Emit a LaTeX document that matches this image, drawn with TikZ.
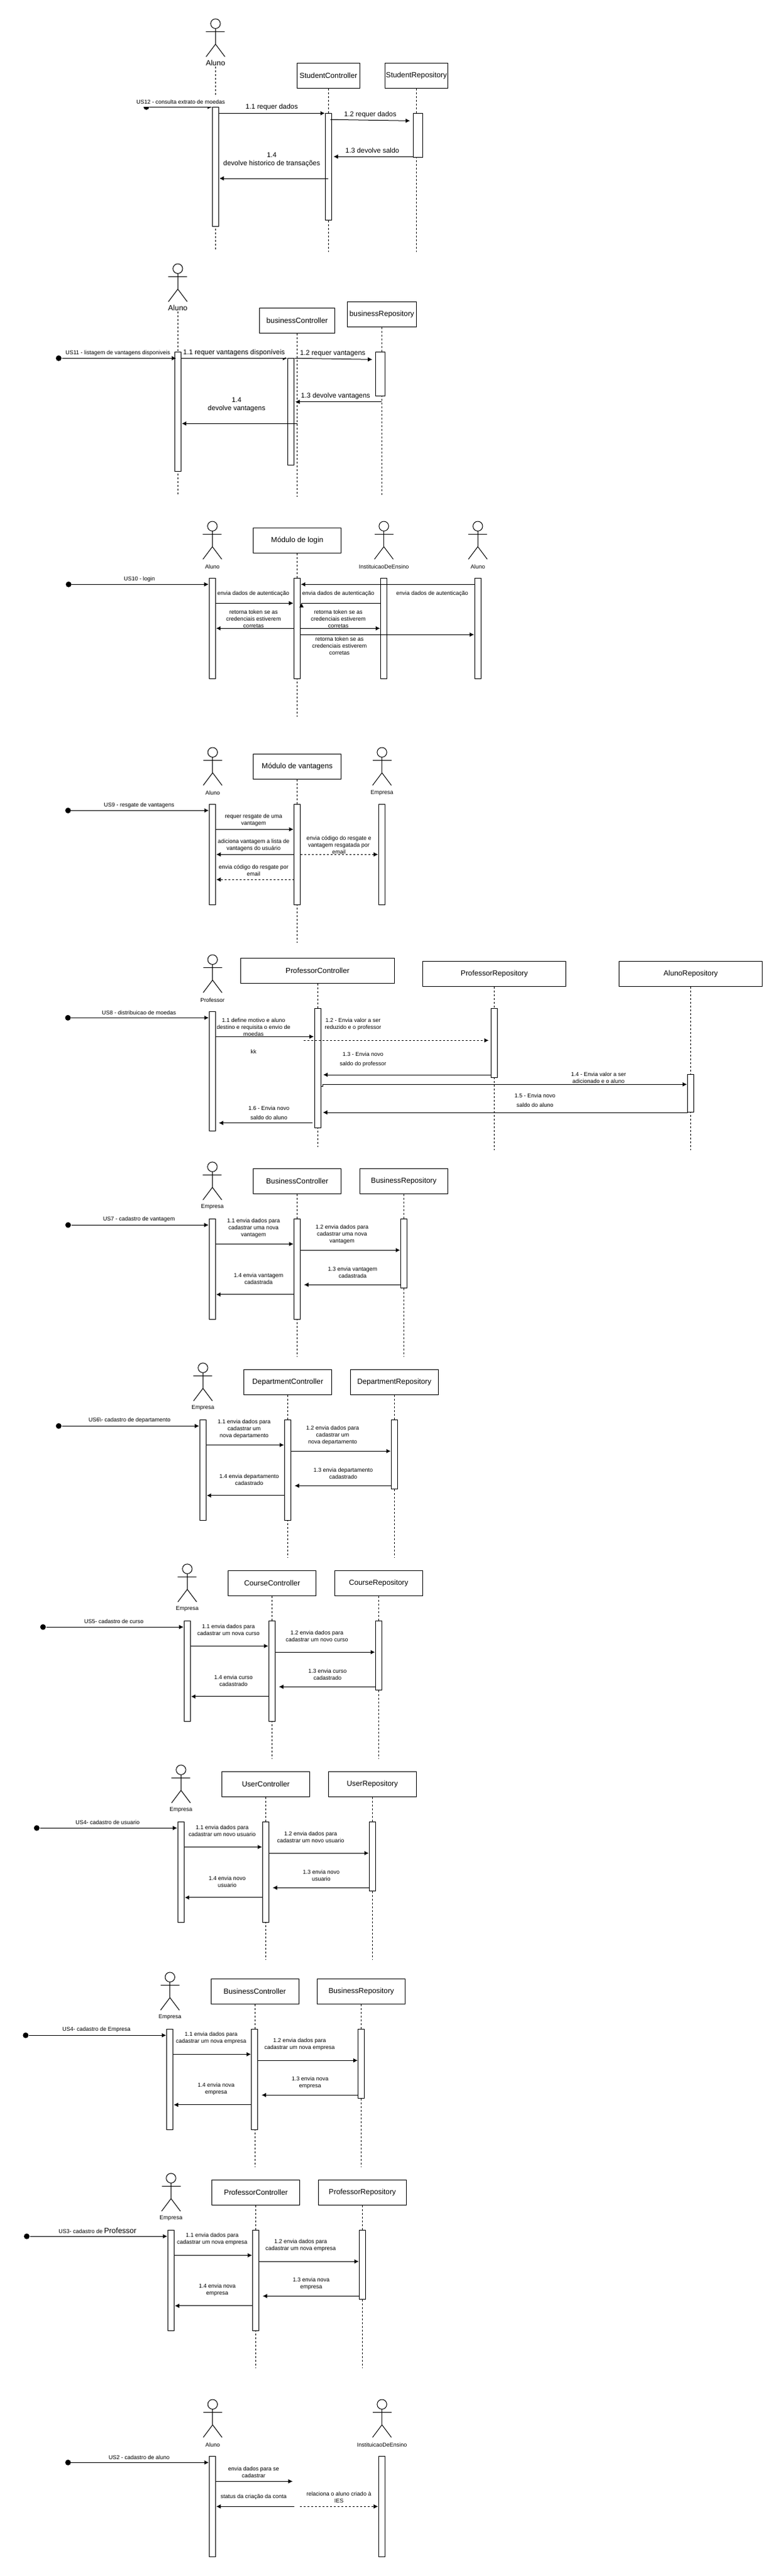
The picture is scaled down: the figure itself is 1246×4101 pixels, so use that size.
\documentclass[tikz,border=0pt]{standalone}
\usepackage{fontspec}
\setmainfont{Liberation Sans}
\usetikzlibrary{arrows.meta}
\tikzstyle{lifebox} = [draw, fill=white, minimum height=40pt, inner sep=0,
font=\fontsize{11.8}{14}\selectfont]
\tikzstyle{actbar} = [draw, fill=white, anchor=north, minimum width=10pt,
inner sep=0, outer sep=0]
\tikzstyle{msglabel} = [inner sep=0, align=center, font=\fontsize{9}{11}\selectfont]
\tikzstyle{bigmsg} = [inner sep=0, align=center, font=\fontsize{11}{13}\selectfont]
\tikzstyle{actname} = [inner sep=0, align=center, font=\fontsize{12}{14}\selectfont]
\tikzstyle{startdot} = [circle, fill=black, minimum size=9pt, inner sep=0]
\tikzstyle{lifeline} = [dash pattern=on 3pt off 3pt]
\tikzstyle{msg} = [-{Latex[length=7pt,width=7pt]}, shorten >=1pt]
\tikzstyle{dashmsg} = [msg, dash pattern=on 3pt off 3pt]
%% stick figure, y is the height of the arms
\newcommand{\actor}[3]{
	\coordinate (#1) at (#2,#3);
	\draw (#2,#3-12.6) circle (7.7pt);
	\draw (#2,#3-5) -- (#2,#3+20);
	\draw (#2-15,#3) -- (#2+15,#3);
	\draw (#2-15,#3+40) -- (#2,#3+20) -- (#2+15,#3+40);
}
%% the six "cadastro" sequences only differ by their offset and texts
\newcommand{\cadastro}[9]{
	\begin{scope}[shift={#2}]
		\actor{emp#1}{338.4}{1870.2}
		\node[msglabel] (empName#1) at (338.4,1921.6) {Empresa};
		\node[lifebox, minimum width=140pt] (ctrl#1) at (473.6,1880.4) {#3};
		\node[lifebox, minimum width=140pt] (repo#1) at (643.3,1880.4) {#4};
		\draw[lifeline] (ctrl#1) -- (ctrl#1 |- 0,2160.4);
		\draw[lifeline] (repo#1) -- (repo#1 |- 0,2160.4);
		\node[actbar, minimum height=160pt] (barA#1) at (338.4,1940.4) {};
		\node[actbar, minimum height=160pt] (barB#1) at (473.5,1940.4) {};
		\node[actbar, minimum height=110pt] (barC#1) at (643.5,1940.4) {};
		\node[startdot] (start#1) at (108.5,1950.2) {};
		\draw[msg] (start#1) -- (barA#1.west |- start#1);
		\node[msglabel] (us#1) at (221.3,1941.6) {#5};
		\draw[msg] (barA#1.east |- 0,1980.4) -- (barB#1.west |- 0,1980.4);
		\node[msglabel] (txtA#1) at (404,1955) {#6};
		\draw[msg] (barB#1.east |- 0,1990.2) -- (barC#1.west |- 0,1990.2);
		\node[msglabel] (txtB#1) at (545,1965) {#7};
		\draw[msg] (barC#1.west |- 0,2045.3) -- ([xshift=5pt]barB#1.east |- 0,2045.3);
		\node[msglabel] (txtC#1) at (561.8,2025.5) {#8};
		\draw[msg] (barB#1.west |- 0,2060.8) -- (barA#1.east |- 0,2060.8);
		\node[msglabel] (txtD#1) at (412,2035.7) {#9};
	\end{scope}
}

\begin{document}
\begin{tikzpicture}[x=1pt, y=-1pt, line width=1pt]
	\useasboundingbox (0,0) rectangle (1246,4101);
	%% US12 extrato
	\actor{aluA}{343.4}{50.3}
	\node[actname] (aluAname) at (343.4,100.7) {Aluno};
	\node[lifebox, minimum width=100pt] (ctrlA) at (523.4,120.3) {StudentController};
	\node[lifebox, minimum width=100pt] (repoA) at (663.5,120.3) {StudentRepository};
	\draw[lifeline] (aluAname.south) -- (aluAname.south |- 0,397.7);
	\draw[lifeline] (ctrlA) -- (ctrlA |- 0,400.7);
	\draw[lifeline] (repoA) -- (repoA |- 0,400.7);
	\node[actbar, minimum height=190pt] (barAA) at (343.6,170.3) {};
	\node[actbar, minimum height=170pt] (barBA) at (523.5,180.3) {};
	\node[actbar, minimum height=70pt, minimum width=15pt] (barCA) at (665.8,180.3) {};
	\node[startdot] (startA) at (233.2,170.3) {};
	\draw[msg] (startA) -- (barAA.west |- startA);
	\node[msglabel, fill=white, minimum height=16pt] (usA) at (287.9,162) {US12 - consulta extrato de moedas};
	\draw[msg] (barAA.east |- 0,180.3) -- (barBA.west |- 0,180.3);
	\node[bigmsg] (txtAA) at (433,171) {1.1 requer dados};
	\draw[msg] ([xshift=-2pt]barBA.east |- 0,190.3) -- ([xshift=-4pt]barCA.west |- 0,192.3);
	\node[bigmsg] (txtBA) at (590,182.3) {1.2 requer dados};
	\draw[msg] (barCA.west |- 0,249.3) -- ([xshift=2pt]barBA.east |- 0,249.3);
	\node[bigmsg] (txtCA) at (593.3,240) {1.3 devolve saldo};
	\draw[msg] (ctrlA |- 0,284) -- (barAA.east |- 0,284);
	\node[bigmsg] (txtDA) at (433,254.5) {1.4\\devolve historico de transações};
	%% US11 vantagens
	\actor{aluB}{283.3}{440.3}
	\node[actname] (aluBname) at (283.3,490.7) {Aluno};
	\node[lifebox, minimum width=120pt] (ctrlB) at (473.5,510.3) {businessController};
	\node[lifebox, minimum width=110pt] (repoB) at (608.4,500.3) {businessRepository};
	\draw[lifeline] (aluBname.south) -- (aluBname.south |- 0,787.7);
	\draw[lifeline] (ctrlB) -- (ctrlB |- 0,790.7);
	\draw[lifeline] (repoB) -- (repoB |- 0,787.7);
	\node[actbar, minimum height=190pt] (barAB) at (283.7,560.3) {};
	\node[actbar, minimum height=170pt] (barBB) at (463.5,570.3) {};
	\node[actbar, minimum height=70pt, minimum width=15pt] (barCB) at (605.7,560.3) {};
	\node[startdot] (startB) at (93.5,570.3) {};
	\draw[msg] (startB) -- ([xshift=3pt]barAB.west |- startB);
	\node[msglabel] (usB) at (187.8,562) {US11 - listagem de vantagens disponiveis};
	\draw[msg] (barAB.east |- 0,570.3) -- (barBB.west |- 0,570.3);
	\node[bigmsg, fill=white, minimum height=18pt] (txtAB) at (373,561.3) {1.1 requer vantagens disponíveis};
	\draw[msg] ([xshift=1pt]barBB.east |- 0,570.3) -- ([xshift=-4pt]barCB.west |- 0,572.3);
	\node[bigmsg] (txtBB) at (530.2,562.3) {1.2 requer vantagens};
	\draw[msg] (repoB |- 0,639.7) -- ([xshift=1pt]barBB.east |- 0,639.7);
	\node[bigmsg] (txtCB) at (534.7,630.3) {1.3 devolve vantagens};
	\draw[msg] (ctrlB |- 0,674.3) -- (barAB.east |- 0,674.3);
	\node[bigmsg] (txtDB) at (377,644.7) {1.4\\devolve vantagens};
	%% US10 login
	\actor{aluC}{338.4}{850.3}
	\node[msglabel] (aluCname) at (338.4,902) {Aluno};
	\node[lifebox, minimum width=140pt] (loginC) at (473.6,860.3) {Módulo de login};
	\actor{iesC}{611.6}{850.3}
	\node[msglabel] (iesCname) at (611.6,902) {InstituicaoDeEnsino};
	\actor{aluD}{761.3}{850.3}
	\node[msglabel] (aluDname) at (761.3,902) {Aluno};
	\draw[lifeline] (loginC) -- (loginC |- 0,1141);
	\node[actbar, minimum height=160pt] (barAC) at (338.4,920.3) {};
	\node[actbar, minimum height=160pt] (barBC) at (473.4,920.3) {};
	\node[actbar, minimum height=160pt] (barCC) at (611.6,920.3) {};
	\node[actbar, minimum height=160pt] (barDC) at (761.3,920.3) {};
	\node[startdot] (startC) at (109.3,930.3) {};
	\draw[msg] (startC) -- (barAC.west |- startC);
	\node[msglabel] (usC) at (222.2,922) {US10 - login};
	\draw[msg] (barAC.east |- 0,960.3) -- (barBC.west |- 0,960.3);
	\node[msglabel] (txtAC) at (403.6,945) {envia dados de autenticação};
	\draw[msg, shorten >=0pt] (barCC.west |- 0,960.3) -- ([xshift=2pt]barBC.east |- 0,960.3) -- ++(0,6.5) -- ++(0,-7);
	\node[msglabel] (txtBC) at (539,945) {envia dados de autenticação};
	\draw[msg] (barDC.west |- 0,930.3) -- (barBC.east |- 0,930.3);
	\node[msglabel] (txtCC) at (688.7,945) {envia dados de autenticação};
	\draw[msg] (barBC.west |- 0,1000.3) -- (barAC.east |- 0,1000.3);
	\node[msglabel] (txtDC) at (404,985) {retorna token se as\\credenciais estiverem\\corretas};
	\draw[msg] (barBC.east |- 0,1000.3) -- (barCC.west |- 0,1000.3);
	\node[msglabel] (txtEC) at (539,985) {retorna token se as\\credenciais estiverem\\corretas};
	\draw[msg] (barBC.east |- 0,1010.3) -- (barDC.west |- 0,1010.3);
	\node[msglabel] (txtFC) at (540.9,1028) {retorna token se as\\credenciais estiverem\\corretas};
	%% US9 resgate
	\actor{aluE}{338.8}{1210.3}
	\node[msglabel] (aluEname) at (338.8,1262) {Aluno};
	\node[lifebox, minimum width=140pt] (vantE) at (473.6,1220.3) {Módulo de vantagens};
	\actor{empE}{608.6}{1210.3}
	\node[msglabel] (empEname) at (608.6,1262) {Empresa};
	\draw[lifeline] (vantE) -- (vantE |- 0,1501);
	\node[actbar, minimum height=160pt] (barAE) at (338.6,1280.3) {};
	\node[actbar, minimum height=160pt] (barBE) at (473.5,1280.3) {};
	\node[actbar, minimum height=160pt] (barCE) at (608.4,1280.3) {};
	\node[startdot] (startE) at (108.4,1290.3) {};
	\draw[msg] (startE) -- (barAE.west |- startE);
	\node[msglabel] (usE) at (221.6,1282) {US9 - resgate de vantagens};
	\draw[msg] (barAE.east |- 0,1320.3) -- (barBE.west |- 0,1320.3);
	\node[msglabel] (txtAE) at (404.2,1305.5) {requer resgate de uma\\vantagem};
	\draw[msg] (barBE.west |- 0,1360.3) -- (barAE.east |- 0,1360.3);
	\node[msglabel] (txtBE) at (404.2,1345.5) {adiciona vantagem a lista de\\vantagens do usuário};
	\draw[dashmsg] (barBE.east |- 0,1360.3) -- (barCE.west |- 0,1360.3);
	\node[msglabel] (txtCE) at (540,1345) {envia código do resgate e\\vantagem resgatada por\\email};
	\draw[dashmsg] (barBE.west |- 0,1400.3) -- (barAE.east |- 0,1400.3);
	\node[msglabel] (txtDE) at (404.2,1385.5) {envia código do resgate por\\email};
	%% US8 moedas
	\actor{profF}{338.7}{1540.3}
	\node[msglabel] (profFname) at (338.7,1592) {Professor};
	\node[lifebox, minimum width=245pt] (ctrlF) at (506,1545.3) {ProfessorController};
	\node[lifebox, minimum width=228.7pt] (repoF) at (787.6,1550.3) {ProfessorRepository};
	\node[lifebox, minimum width=228.7pt] (aluRepoF) at (1100.6,1550.3) {AlunoRepository};
	\draw[lifeline] (ctrlF) -- (ctrlF |- 0,1825.7);
	\draw[lifeline] (repoF) -- (repoF |- 0,1831);
	\draw[lifeline] (aluRepoF) -- (aluRepoF |- 0,1831);
	\node[actbar, minimum height=190pt] (barAF) at (338.6,1610.3) {};
	\node[actbar, minimum height=190pt] (barBF) at (506,1605.3) {};
	\node[actbar, minimum height=110pt] (barCF) at (787.6,1605.3) {};
	\node[actbar, minimum height=60pt] (barDF) at (1100.6,1710.3) {};
	\node[startdot] (startF) at (108.2,1620.3) {};
	\draw[msg] (startF) -- (barAF.west |- startF);
	\node[msglabel] (usF) at (221.3,1612) {US8 - distribuicao de moedas};
	\draw[msg] (barAF.east |- 0,1650.3) -- (barBF.west |- 0,1650.3);
	\node[msglabel] (txtAF) at (404,1635) {1.1 define motivo e aluno\\destino e requisita o envio de\\moedas};
	\draw[dashmsg] ([xshift=-17.4pt]barBF.west |- 0,1656.3) -- ([xshift=-3pt]barCF.west |- 0,1656.3);
	\node[msglabel] (txtBF) at (562.5,1630.5) {1.2 - Envia valor a ser\\reduzido e o professor};
	\node[msglabel] (kkF) at (404,1674.7) {kk};
	\draw[msg] (barCF.west |- 0,1711) -- ([xshift=3pt]barBF.east |- 0,1711);
	\node[msglabel] (txtCF) at (578.3,1686.5) {1.3 - Envia novo\\[4pt]saldo do professor};
	\draw[msg] (barBF.east |- 0,1729) -- ++(3,0) |- (barDF.west |- 0,1726.3);
	\node[msglabel] (txtDF) at (953.7,1715.5) {1.4 - Envia valor a ser\\adicionado e o aluno};
	\draw[msg] (barDF.west |- 0,1771) -- ([xshift=2.5pt]barBF.east |- 0,1771);
	\node[msglabel] (txtEF) at (852.4,1751.5) {1.5 - Envia novo\\[4pt]saldo do aluno};
	\draw[msg] ([xshift=-3pt]barBF.west |- 0,1787.7) -- ([xshift=4pt]barAF.east |- 0,1787.7);
	\node[msglabel] (txtFF) at (428.5,1771.5) {1.6 - Envia novo\\[4pt]saldo do aluno};
	%% cadastros
	\cadastro{G}{(0,0)}{BusinessController}{BusinessRepository}{US7 - cadastro de vantagem}
		{1.1 envia dados para\\cadastrar uma nova\\vantagem}
		{1.2 envia dados para\\cadastrar uma nova\\vantagem}
		{1.3 envia vantagem\\cadastrada}{1.4 envia vantagem\\cadastrada}
	\cadastro{H}{(-15,320)}{DepartmentController}{DepartmentRepository}{US6\textbackslash- cadastro de departamento}
		{1.1 envia dados para\\cadastrar um\\nova departamento}
		{1.2 envia dados para\\cadastrar um\\nova departamento}
		{1.3 envia departamento\\cadastrado}{1.4 envia departamento\\cadastrado}
	\cadastro{I}{(-40,640)}{CourseController}{CourseRepository}{US5- cadastro de curso}
		{1.1 envia dados para\\cadastrar um nova curso}
		{1.2 envia dados para\\cadastrar um novo curso}
		{1.3 envia curso\\cadastrado}{1.4 envia curso\\cadastrado}
	\cadastro{J}{(-50,960)}{UserController}{UserRepository}{US4- cadastro de usuario}
		{1.1 envia dados para\\cadastrar um novo usuario}
		{1.2 envia dados para\\cadastrar um novo usuario}
		{1.3 envia novo\\usuario}{1.4 envia novo\\usuario}
	\cadastro{K}{(-67.6,1290)}{BusinessController}{BusinessRepository}{US4- cadastro de Empresa}
		{1.1 envia dados para\\cadastrar um nova empresa}
		{1.2 envia dados para\\cadastrar um nova empresa}
		{1.3 envia nova\\empresa}{1.4 envia nova\\empresa}
	\cadastro{L}{(-65.9,1610)}{ProfessorController}{ProfessorRepository}{US3- cadastro de {\fontsize{12}{11}\selectfont Professor}}
		{1.1 envia dados para\\cadastrar um nova empresa}
		{1.2 envia dados para\\cadastrar um nova empresa}
		{1.3 envia nova\\empresa}{1.4 envia nova\\empresa}
	%% US2 cadastro de aluno
	\actor{aluM}{338.8}{3840.3}
	\node[msglabel] (aluMname) at (338.8,3892) {Aluno};
	\actor{iesM}{608.6}{3840.3}
	\node[msglabel] (iesMname) at (608.6,3892) {InstituicaoDeEnsino};
	\node[actbar, minimum height=160pt] (barAM) at (338.6,3910.3) {};
	\node[actbar, minimum height=160pt] (barCM) at (608.4,3910.3) {};
	\node[startdot] (startM) at (108.4,3920.3) {};
	\draw[msg] (startM) -- (barAM.west |- startM);
	\node[msglabel] (usM) at (221.6,3912) {US2 - cadastro de aluno};
	\coordinate (freeAM) at (467.3,3950.3);
	\coordinate (freeBM) at (468.9,3990.3);
	\coordinate (freeCM) at (477.7,3990.3);
	\draw[msg] (barAM.east |- freeAM) -- (freeAM);
	\node[msglabel] (txtAM) at (404.2,3935.5) {envia dados para se\\cadastrar};
	\draw[msg] (freeBM) -- (barAM.east |- freeBM);
	\node[msglabel] (txtBM) at (404.2,3975) {status da criação da conta};
	\draw[dashmsg] (freeCM) -- (barCM.west |- freeCM);
	\node[msglabel] (txtCM) at (540,3975.5) {relaciona o aluno criado à\\IES};
\end{tikzpicture}
\end{document}
